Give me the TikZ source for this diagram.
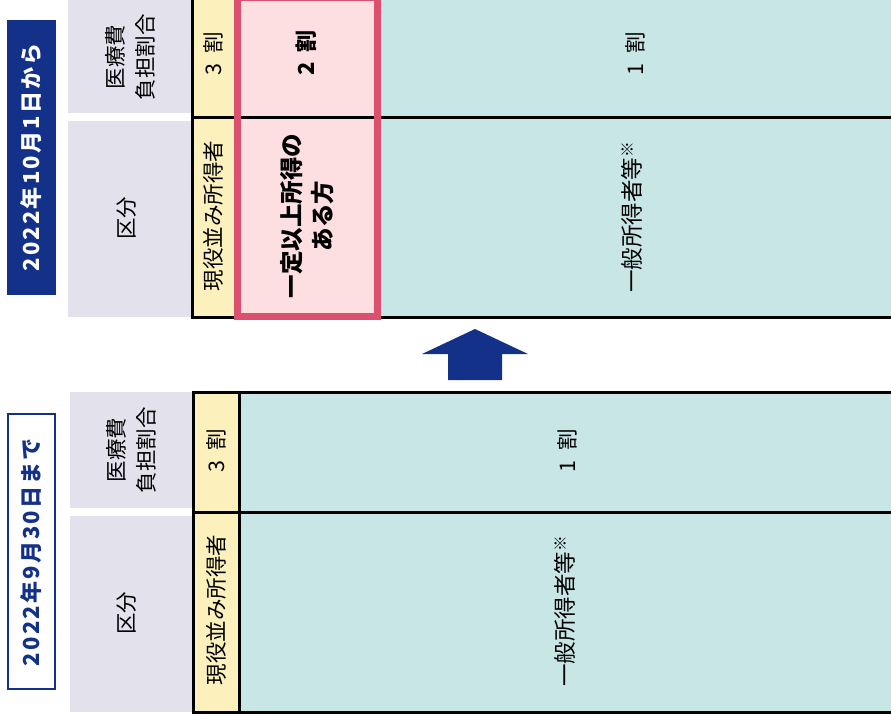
\documentclass[tikz,border=0pt]{standalone}
\usepackage{fontspec}
\setmainfont{Noto Sans CJK JP}
\definecolor{navy}{HTML}{14318A}
\definecolor{hdrgray}{HTML}{E3E2EC}
\definecolor{yel}{HTML}{FCF1BC}
\definecolor{tealf}{HTML}{C8E6E6}
\definecolor{pinkf}{HTML}{FDDFE2}
\definecolor{pinkb}{HTML}{DC4F6F}
\newcommand{\wsp}{\hspace{0.45em}}
\begin{document}
\begin{tikzpicture}[x=1pt,y=-1pt,
  txt/.style={rotate=90, font=\fontsize{21.5}{30}\selectfont, align=center, inner sep=0pt},
  bigtxt/.style={txt, font=\fontsize{22.5}{30}\selectfont},
  btxt/.style={txt, font=\fontsize{22}{31}\selectfont\bfseries},
  bbtxt/.style={txt, font=\fontsize{23.5}{31}\selectfont\bfseries},
  lbl/.style={rotate=90, font=\fontsize{22}{26}\selectfont\bfseries\addfontfeatures{LetterSpace=10}, inner sep=0pt},
  gridline/.style={line width=3pt, black}]
\useasboundingbox (0,0) rectangle (891,725);
% ---------- top panel ----------
\fill[navy] (7,20) rectangle (56,295);
\node[lbl, text=white] (lblnew) at (31.5,157.5) {2022年10月1日から};
\fill[hdrgray] (68,0) rectangle (191,113);
\fill[hdrgray] (68,121) rectangle (191,317);
\fill[yel] (192,0) rectangle (234,317);
\fill[tealf] (381,0) rectangle (891,317);
\fill[pinkf] (234,0) rectangle (381,318);
\draw[gridline] (192,0) -- (192,317) -- (891,317);
\draw[gridline] (192,117) -- (891,117);
\draw[pinkb, line width=7pt] (237.5,-2) rectangle (377.5,316.5);
\node[txt] (hdrA) at (130,57) {医療費\\負担割合};
\node[txt] (hdrB) at (127,218) {区分};
\node[txt] (y3a) at (213,54) {3\wsp 割};
\node[txt] (yga) at (213,216) {現役並み所得者};
\node[btxt] (p2) at (306,53) {2\wsp 割};
\node[bbtxt] (pg) at (307,216) {一定以上所得の\\ある方};
\node[txt] (t1a) at (635,54) {1\wsp 割};
\node[bigtxt] (tga) at (632,217) {一般所得者等\textsuperscript{※}};
% ---------- arrow ----------
\fill[navy] (475,329) -- (528,354) -- (502,354) -- (502,380) -- (448,380) -- (448,354) -- (422,354) -- cycle;
% ---------- bottom panel ----------
\draw[navy, line width=2pt, fill=white] (8,414) rectangle (55,689);
\node[lbl, text=navy] (lblold) at (31.5,552) {2022年9月30日まで};
\fill[hdrgray] (70,392) rectangle (193,508);
\fill[hdrgray] (70,516) rectangle (193,712);
\fill[yel] (193,392) rectangle (239,712);
\fill[tealf] (239,392) rectangle (891,712);
\draw[gridline] (891,392) -- (193,392) -- (193,712) -- (891,712);
\draw[gridline] (193,512) -- (891,512);
\draw[gridline] (239,392) -- (239,712);
\node[txt] (hdrC) at (131,450) {医療費\\負担割合};
\node[txt] (hdrD) at (127,613) {区分};
\node[txt] (y3b) at (216,451) {3\wsp 割};
\node[txt] (ygb) at (216,610) {現役並み所得者};
\node[txt] (t1b) at (567,451) {1\wsp 割};
\node[bigtxt] (tgb) at (565,611) {一般所得者等\textsuperscript{※}};
\end{tikzpicture}
\end{document}
